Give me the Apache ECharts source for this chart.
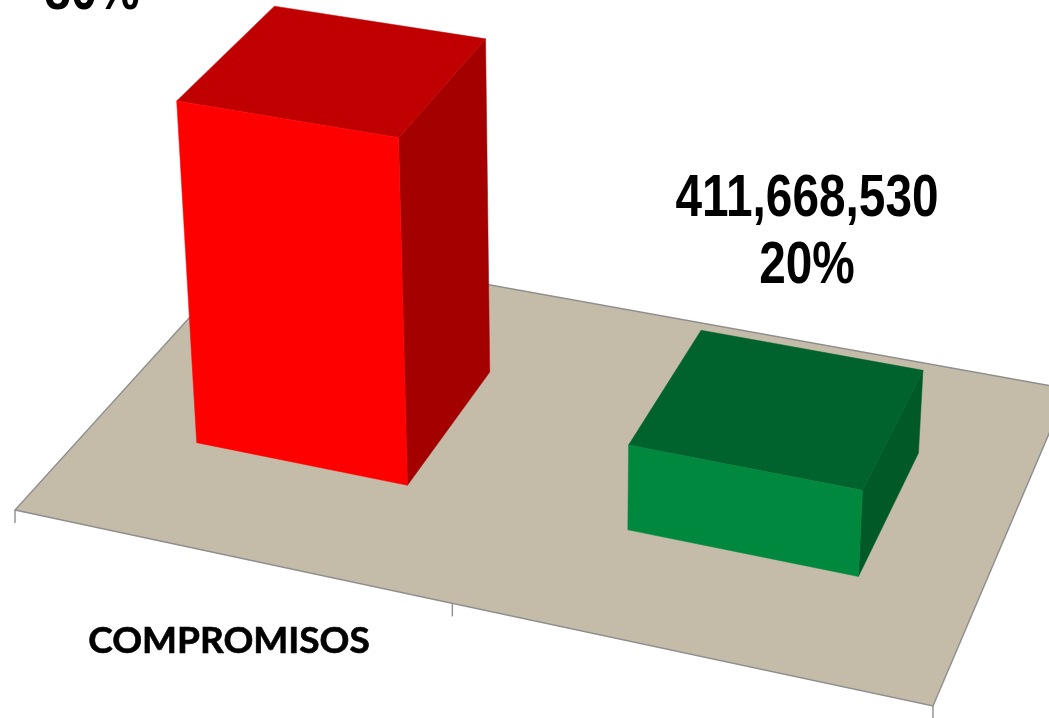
<!DOCTYPE html>
<html>
<head>
<meta charset="utf-8">
<style>html,body{margin:0;padding:0;background:#fff;overflow:hidden}#c{width:1049px;height:718px}</style>
<script src="https://cdn.jsdelivr.net/npm/echarts@6/dist/echarts.min.js"></script>
</head>
<body>
<div id="c"></div>
<script>
// ---- data ----
const categories = ['COMPROMISOS', ''];
const shares = [80, 20];
const amounts = ['', '411,668,530'];
const shareLabels = ['80%', '20%'];

// ---- styling / scene layout ----
const frontColors = ['#FF0000', '#00893E'];
const topColors = ['#C00000', '#00622D'];
const sideColors = ['#A50000', '#005A28'];
const labelCentres = [[92, 14], [807, 288]];   // centre x, anchor of the last line
const W = 1049, H = 718;
const barShare = 0.5, depthFrom = 0.3, depthTo = 0.7;
// projective camera: floor unit square (u,v) + height
const CAM = {a:833.97,b:279.76,c:15,d:132.42,e:-231.30,f:510,g:-0.09006,h:0.14693,
             vx:571,vy:6837,k:-0.000655};
function project(u, v, val) {
  const t = val * CAM.k;
  const w = CAM.g*u + CAM.h*v + 1 + t;
  return [(CAM.a*u + CAM.b*v + CAM.c + t*CAM.vx)/w, (CAM.d*u + CAM.e*v + CAM.f + t*CAM.vy)/w];
}
function poly(points, fill, z2) {
  return {type:'polygon', z2:z2||0, shape:{points}, style:{fill, stroke:fill, lineWidth:0.5}};
}
function line(p, q, color, width) {
  return {type:'line', shape:{x1:p[0],y1:p[1],x2:q[0],y2:q[1]}, style:{stroke:color, lineWidth:width, fill:null}};
}

function renderFloor(params, api) {
  const edge = '#8E8E8E';
  const c0 = project(0,0,0), c1 = project(1,0,0), c2 = project(1,1,0), c3 = project(0,1,0);
  const children = [{type:'polygon', shape:{points:[c0,c1,c2,c3]}, style:{fill:'#C4BCA8', stroke:edge, lineWidth:1.4}}];
  for (let i = 0; i <= categories.length; i++) {
    const p = project(i/categories.length, 0, 0);
    children.push(line(p, [p[0], p[1]+13], edge, 1.4));
  }
  categories.forEach(function (name, i) {
    if (!name) return;
    children.push({type:'text', style:{text:name, x:229, y:641, align:'center', verticalAlign:'middle',
      font:'bold 37px Lato, sans-serif', fill:'#000', stroke:'#000', lineWidth:0.7}});
  });
  return {type:'group', children};
}

function renderBar(params, api) {
  const i = api.value(0), val = api.value(1);
  const size = api.size([1, 0])[0];
  const c = api.coord([i, val]);
  const cs = params.coordSys;
  const uc = (c[0]-cs.x)/cs.width, bw = size/cs.width*barShare;
  const base = api.coord([i, 0])[1];
  const hVal = (base - c[1]) / cs.height * 100;
  const u0 = uc-bw/2, u1 = uc+bw/2;
  const p = (u,v,h)=>project(u,v,h);
  const fl0=p(u0,depthFrom,0), fr0=p(u1,depthFrom,0), br0=p(u1,depthTo,0);
  const fl1=p(u0,depthFrom,hVal), fr1=p(u1,depthFrom,hVal), br1=p(u1,depthTo,hVal), bl1=p(u0,depthTo,hVal);
  const lines = (amounts[i] ? amounts[i]+'\n' : '') + shareLabels[i];
  return {type:'group', children:[
    poly([fr0,br0,br1,fr1], sideColors[i]),
    poly([fl1,fr1,br1,bl1], topColors[i]),
    poly([fl0,fr0,fr1,fl1], frontColors[i]),
    {type:'text', x:labelCentres[i][0], y:labelCentres[i][1]+12, scaleX:0.81, scaleY:1,
     style:{text:lines, x:0, y:0, align:'center', verticalAlign:'bottom',
      font:'bold 59px "Liberation Sans", sans-serif', lineHeight:67, fill:'#000'}}
  ]};
}

const chart = echarts.init(document.getElementById('c'), null, {renderer:'canvas', width:W, height:H});
chart.setOption({
  animation:false,
  backgroundColor:'#fff',
  grid:{left:0,right:0,top:0,bottom:0},
  xAxis:{type:'category', data:categories, show:false},
  yAxis:{type:'value', min:0, max:100, show:false},
  series:[
    {type:'custom', name:'floor', renderItem:renderFloor, data:[[0,0]], encode:{x:0,y:1}, z:1, silent:true, clip:false},
    {type:'custom', name:'COMPROMISOS', renderItem:renderBar, data:shares.map((v,i)=>[i,v]), encode:{x:0,y:1}, z:2, clip:false}
  ]
});
</script>
</body>
</html>
